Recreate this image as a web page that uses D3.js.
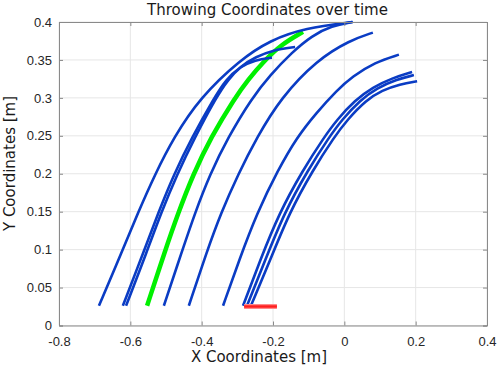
<!DOCTYPE html>
<html lang="en">
<head>
  <meta charset="UTF-8">
  <title>Throwing Coordinates over time</title>
  <style>
    body{ margin:0; background:#fff; }
    svg{ display:block; }
    .tick text{ font-family:"Liberation Sans", Arial, sans-serif; font-size:13px; fill:#262626; }
  </style>
</head>
<body>
  <script src="https://cdn.jsdelivr.net/npm/d3@7"></script>
  <script>
    // tick values
    const xTicks = [-0.8, -0.6, -0.4, -0.2, 0, 0.2, 0.4];
    const yTicks = [0, 0.05, 0.1, 0.15, 0.2, 0.25, 0.3, 0.35, 0.4];

    // throw trajectories [x, y] in metres
    const throwA = [[-0.688,0.026],[-0.623,0.098],[-0.579,0.148],[-0.531,0.199],[-0.478,0.248],[-0.405,0.300],[-0.293,0.350],[-0.208,0.376],[-0.110,0.392],[0.024,0.400]];
    const throwB1 = [[-0.621,0.026],[-0.562,0.098],[-0.522,0.148],[-0.478,0.199],[-0.427,0.248],[-0.365,0.300],[-0.332,0.324],[-0.293,0.341],[-0.250,0.350],[-0.203,0.353]];
    const throwB2 = [[-0.612,0.026],[-0.553,0.098],[-0.514,0.148],[-0.469,0.199],[-0.419,0.248],[-0.360,0.300],[-0.326,0.324],[-0.290,0.342],[-0.248,0.354],[-0.200,0.363],[-0.138,0.367]];
    const throwD = [[-0.506,0.026],[-0.455,0.098],[-0.419,0.148],[-0.377,0.199],[-0.326,0.248],[-0.259,0.300],[-0.208,0.330],[-0.147,0.360],[-0.091,0.382],[-0.035,0.395],[0.022,0.400]];
    const throwE = [[-0.436,0.026],[-0.385,0.098],[-0.346,0.148],[-0.298,0.199],[-0.245,0.248],[-0.178,0.300],[-0.077,0.350],[0.016,0.376],[0.080,0.386]];
    const throwF = [[-0.340,0.026],[-0.295,0.086],[-0.245,0.148],[-0.186,0.205],[-0.133,0.248],[-0.079,0.280],[-0.021,0.310],[0.022,0.328],[0.086,0.347],[0.153,0.357]];
    const throwH1 = [[-0.284,0.026],[-0.236,0.086],[-0.183,0.148],[-0.116,0.205],[-0.057,0.248],[-0.021,0.271],[0.030,0.297],[0.080,0.314],[0.134,0.326],[0.190,0.334]];
    const throwH2 = [[-0.273,0.026],[-0.222,0.086],[-0.169,0.148],[-0.102,0.205],[-0.043,0.248],[-0.007,0.271],[0.044,0.297],[0.092,0.313],[0.145,0.324],[0.195,0.330]];
    const throwH3 = [[-0.262,0.026],[-0.208,0.086],[-0.155,0.148],[-0.088,0.205],[-0.029,0.248],[0.008,0.271],[0.061,0.297],[0.106,0.310],[0.156,0.318],[0.204,0.322]];
    // highlighted throw and release segment
    const bestThrow = [[-0.553,0.026],[-0.503,0.098],[-0.466,0.148],[-0.424,0.199],[-0.374,0.248],[-0.307,0.300],[-0.270,0.324],[-0.228,0.347],[-0.178,0.370],[-0.116,0.387]];
    const releaseLine = [[-0.281,0.025],[-0.189,0.025]];

    const blueThrows = [throwA, throwB1, throwB2, throwD, throwE, throwF, throwH1, throwH2, throwH3];

    const W = 498, H = 367;
    const mLeft = 59, mRight = 487, mTop = 22, mBottom = 325.5;

    const svg = d3.select('body').append('svg').attr('width', W).attr('height', H);

    const x = d3.scaleLinear().domain([-0.8, 0.4]).range([mLeft, mRight]);
    const y = d3.scaleLinear().domain([0, 0.4]).range([mBottom, mTop]);
    const fmt = d => String(+d.toFixed(2));

    // grid
    const grid = svg.append('g').attr('stroke', '#e6e6e6').attr('stroke-width', 1);
    grid.selectAll('.gx').data(xTicks).join('line').attr('class', 'gx')
      .attr('x1', d => x(d)).attr('x2', d => x(d)).attr('y1', mTop).attr('y2', mBottom);
    grid.selectAll('.gy').data(yTicks).join('line').attr('class', 'gy')
      .attr('y1', d => y(d)).attr('y2', d => y(d)).attr('x1', mLeft).attr('x2', mRight);

    const line = d3.line().x(d => x(d[0])).y(d => y(d[1])).curve(d3.curveBasis);

    svg.append('path').datum(bestThrow)
      .attr('d', line).attr('fill', 'none')
      .attr('stroke', '#00f000').attr('stroke-width', 4.5);

    svg.selectAll('.throw').data(blueThrows).join('path')
      .attr('class', 'throw')
      .attr('d', line).attr('fill', 'none')
      .attr('stroke', '#0a3cc4').attr('stroke-width', 2.6);

    svg.append('path').datum(releaseLine)
      .attr('d', line).attr('fill', 'none')
      .attr('stroke', '#ff8a8a').attr('stroke-width', 5);
    svg.append('path').datum(releaseLine)
      .attr('d', line).attr('fill', 'none')
      .attr('stroke', '#ff2020').attr('stroke-width', 2.5);

    // axes, MATLAB style box with inward ticks
    const axColor = '#8a8a8a';
    const gx = svg.append('g').attr('transform', `translate(0,${mBottom})`)
      .call(d3.axisBottom(x).tickValues(xTicks).tickFormat(fmt).tickSize(-4).tickPadding(11));
    const gxt = svg.append('g').attr('transform', `translate(0,${mTop})`)
      .call(d3.axisTop(x).tickValues(xTicks).tickFormat('').tickSize(-4));
    const gy = svg.append('g').attr('transform', `translate(${mLeft},0)`)
      .call(d3.axisLeft(y).tickValues(yTicks).tickFormat(fmt).tickSize(-4).tickPadding(7));
    const gyr = svg.append('g').attr('transform', `translate(${mRight},0)`)
      .call(d3.axisRight(y).tickValues(yTicks).tickFormat('').tickSize(-4));
    [gx, gxt, gy, gyr].forEach(g => {
      g.select('.domain').attr('stroke', axColor);
      g.selectAll('.tick line').attr('stroke', axColor);
    });

    // texts
    const label = { 'font-family': '"DejaVu Sans", Verdana, sans-serif', 'font-size': '15px', 'fill': '#1a1a1a' };
    const title = svg.append('text').attr('x', 267.5).attr('y', 15).attr('text-anchor', 'middle')
      .text('Throwing Coordinates over time');
    const xl = svg.append('text').attr('x', 259).attr('y', 362).attr('text-anchor', 'middle')
      .text('X Coordinates [m]');
    const yl = svg.append('text').attr('transform', 'translate(15,163.5) rotate(-90)').attr('text-anchor', 'middle')
      .text('Y Coordinates [m]');
    [title, xl, yl].forEach(t => Object.entries(label).forEach(([k, v]) => t.attr(k, v)));
  </script>
</body>
</html>
